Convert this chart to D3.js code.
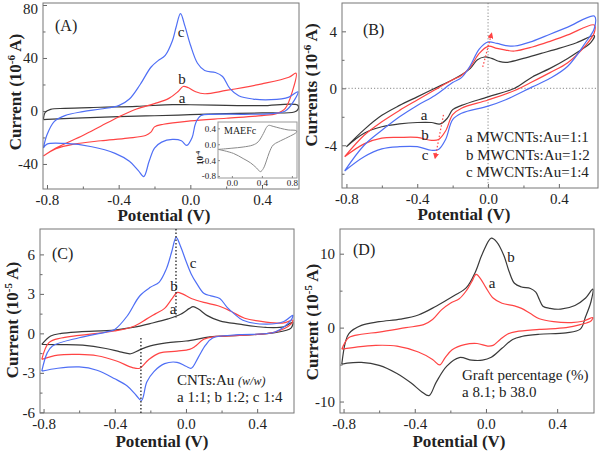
<!DOCTYPE html>
<html><head><meta charset="utf-8">
<script src="https://cdn.jsdelivr.net/npm/d3@7"></script>
<style>
body{margin:0;background:#fff}
svg{display:block}
text{font-family:"Liberation Serif","Times New Roman",serif;fill:#222}
</style>
</head><body>
<svg id="chart" width="600" height="453"></svg>
<script>
// ---------------- DATA (potential V, current) ----------------
const xTickVals = [-0.8, -0.4, 0.0, 0.4];
const xTickLabels = ["-0.8", "-0.4", "0.0", "0.4"];
const xMinorVals = [-0.6, -0.2, 0.2];
const yTicksA = [-40, 0, 40, 80];
const yTicksB = [-4, 0, 4];
const yTicksC = [-6, -3, 0, 3, 6];
const yTicksD = [-10, 0, 10];
const insetXTicks = [0.0, 0.4, 0.8];
const insetYTicks = [-0.8, -0.4, 0.0, 0.4];

// Panel A (10^-6 A)
const A_a = [[-0.82,-6.5],[-0.81,-1],[-0.78,1.2],[-0.7,2.0],[-0.5,2.8],[-0.3,3.5],[-0.1,4.8],[0.0,4.7],[0.2,4.2],[0.4,4.0],[0.6,4.3],
  [0.6,1],[0.58,-0.8],[0.4,-1.5],[0.2,-2.0],[0.0,-2.8],[-0.2,-3.6],[-0.4,-4.3],[-0.6,-5.2],[-0.8,-6.3],[-0.82,-6.5]];
const A_b = [[-0.82,-34],[-0.75,-28],[-0.6,-18.5],[-0.5,-11.5],[-0.4,-4.5],[-0.3,1.5],[-0.2,5.5],[-0.12,9.5],[-0.07,14.5],[-0.04,18.5],[-0.01,17.5],[0.03,14.5],[0.08,13],[0.2,15.5],[0.4,20.5],[0.55,25.5],[0.59,28.5],
  [0.57,15],[0.53,2],[0.48,-2],[0.4,-3.5],[0.2,-5.5],[0.0,-7.5],[-0.15,-10],[-0.2,-12],[-0.22,-16],[-0.25,-18.5],[-0.35,-20.5],[-0.5,-22.5],[-0.65,-25],[-0.75,-28.5],[-0.82,-34]];
const A_c = [[-0.82,-28],[-0.8,-18],[-0.76,-8],[-0.7,-3.5],[-0.6,-0.5],[-0.5,1.5],[-0.4,4],[-0.34,9],[-0.28,20],[-0.22,33],[-0.18,38],[-0.14,42],[-0.1,53],[-0.08,63],[-0.055,73.5],[-0.03,64],[0.0,50],[0.04,36],[0.08,30.5],[0.14,29],[0.18,26],[0.22,17],[0.27,11.5],[0.35,9],[0.45,8.5],[0.55,10.5],[0.6,14.5],
  [0.58,8],[0.53,0],[0.45,-2],[0.3,-2.5],[0.12,-2.5],[0.06,-3.5],[0.03,-9],[0.01,-20],[-0.02,-26],[-0.05,-22.5],[-0.1,-21.5],[-0.16,-23.5],[-0.2,-28],[-0.23,-38],[-0.26,-49.5],[-0.29,-45],[-0.34,-38],[-0.42,-32],[-0.55,-27],[-0.7,-24.5],[-0.8,-25],[-0.82,-28]];
// Inset (MAEFc)
const A_inset = [[-0.18,-0.13],[0.0,-0.1],[0.15,-0.07],[0.28,-0.02],[0.35,0.06],[0.42,0.27],[0.46,0.42],[0.49,0.475],[0.55,0.45],[0.65,0.4],[0.75,0.36],[0.86,0.34],
  [0.86,0.3],[0.75,0.18],[0.62,0.06],[0.55,-0.02],[0.5,-0.2],[0.46,-0.42],[0.42,-0.61],[0.38,-0.69],[0.33,-0.6],[0.25,-0.47],[0.15,-0.36],[0.02,-0.23],[-0.18,-0.13]];

// Panel B (10^-6 A)
const B_a = [[-0.8,-4.1],[-0.7,-2.9],[-0.6,-1.9],[-0.5,-1.2],[-0.4,-0.6],[-0.3,0.0],[-0.2,0.6],[-0.15,0.95],[-0.1,1.4],[-0.06,2.0],[-0.02,2.2],[0.02,2.1],[0.06,1.9],[0.1,1.82],[0.2,2.1],[0.3,2.45],[0.4,2.8],[0.5,3.2],[0.6,3.7],
  [0.58,3.2],[0.5,2.5],[0.45,2.1],[0.35,1.4],[0.25,0.8],[0.15,0.0],[0.0,-0.6],[-0.15,-1.2],[-0.2,-1.5],[-0.23,-2.1],[-0.27,-2.5],[-0.32,-2.4],[-0.4,-2.4],[-0.5,-2.5],[-0.6,-2.7],[-0.7,-3.15],[-0.8,-4.1]];
const B_b = [[-0.81,-4.8],[-0.7,-3.3],[-0.6,-2.35],[-0.5,-1.55],[-0.4,-0.82],[-0.3,-0.1],[-0.2,0.6],[-0.15,0.9],[-0.1,1.5],[-0.05,2.45],[0.0,2.95],[0.05,2.8],[0.1,2.68],[0.15,2.62],[0.25,2.9],[0.35,3.3],[0.45,3.75],[0.6,4.45],
  [0.6,3.9],[0.55,3.0],[0.45,1.8],[0.35,1.1],[0.25,0.46],[0.15,-0.15],[0.0,-0.82],[-0.15,-1.4],[-0.2,-1.85],[-0.24,-3.0],[-0.28,-3.6],[-0.32,-3.65],[-0.4,-3.45],[-0.5,-3.45],[-0.6,-3.5],[-0.7,-3.9],[-0.81,-4.8]];
const B_c = [[-0.81,-5.8],[-0.7,-4.0],[-0.6,-2.95],[-0.5,-2.0],[-0.4,-1.2],[-0.3,-0.5],[-0.2,0.4],[-0.15,0.75],[-0.1,1.6],[-0.05,2.75],[0.0,3.25],[0.05,3.15],[0.1,3.0],[0.15,2.97],[0.25,3.3],[0.35,3.8],[0.45,4.3],[0.6,5.07],
  [0.6,4.2],[0.55,3.2],[0.45,1.55],[0.35,0.7],[0.25,0.1],[0.1,-0.8],[0.0,-1.25],[-0.15,-1.75],[-0.2,-2.2],[-0.24,-3.6],[-0.28,-4.3],[-0.32,-4.35],[-0.4,-4.1],[-0.5,-4.1],[-0.6,-4.25],[-0.7,-4.8],[-0.81,-5.8]];
const B_arrows = [[[-0.03,1.5],[0.02,3.85]],[[-0.252,-1.87],[-0.299,-4.9]]];

// Panel C (10^-5 A)
const C_a = [[-0.81,-0.84],[-0.76,-0.2],[-0.7,0.0],[-0.6,0.12],[-0.4,0.25],[-0.3,0.45],[-0.2,0.75],[-0.1,1.1],[-0.03,1.45],[0.02,1.9],[0.04,2.03],[0.07,1.85],[0.12,1.35],[0.19,0.95],[0.3,0.7],[0.45,0.45],[0.55,0.5],[0.6,0.85],
  [0.59,0.4],[0.5,0.05],[0.3,-0.15],[0.15,-0.25],[0.0,-0.58],[-0.11,-0.72],[-0.2,-0.95],[-0.26,-1.25],[-0.31,-1.55],[-0.37,-1.4],[-0.45,-1.15],[-0.58,-0.9],[-0.7,-0.85],[-0.81,-0.84]];
const C_b = [[-0.81,-1.98],[-0.77,-0.7],[-0.7,-0.35],[-0.6,-0.15],[-0.4,0.18],[-0.3,0.5],[-0.22,1.1],[-0.17,1.5],[-0.12,1.9],[-0.08,2.6],[-0.05,3.1],[-0.02,3.0],[0.03,2.65],[0.1,2.35],[0.18,2.1],[0.25,1.7],[0.33,1.15],[0.45,0.86],[0.55,0.8],[0.6,1.0],
  [0.59,0.7],[0.5,0.1],[0.3,-0.15],[0.16,-0.25],[0.1,-0.45],[0.05,-1.0],[0.02,-1.22],[-0.05,-1.35],[-0.15,-1.5],[-0.21,-2.0],[-0.26,-2.65],[-0.3,-2.6],[-0.39,-2.1],[-0.5,-1.7],[-0.6,-1.6],[-0.72,-1.65],[-0.81,-1.98]];
const C_c = [[-0.81,-2.87],[-0.78,-1.5],[-0.75,-0.96],[-0.6,-0.33],[-0.45,0.1],[-0.4,0.3],[-0.33,1.32],[-0.26,2.84],[-0.2,3.5],[-0.15,3.9],[-0.11,4.9],[-0.08,6.2],[-0.055,7.3],[-0.03,6.6],[0.0,5.5],[0.03,4.5],[0.06,3.8],[0.1,3.05],[0.14,2.85],[0.19,2.65],[0.23,2.0],[0.27,1.5],[0.32,1.0],[0.45,0.7],[0.55,0.9],[0.6,1.37],
  [0.59,1.0],[0.5,0.1],[0.3,-0.1],[0.15,-0.35],[0.11,-0.9],[0.07,-1.8],[0.03,-2.65],[0.0,-2.5],[-0.05,-2.2],[-0.12,-2.3],[-0.18,-2.9],[-0.22,-3.7],[-0.25,-5.1],[-0.28,-4.7],[-0.33,-4.0],[-0.4,-3.45],[-0.5,-2.8],[-0.6,-2.55],[-0.72,-2.65],[-0.81,-2.87]];
const C_guides = [[[-0.056,7.93],[-0.056,1.2]],[[-0.253,-0.35],[-0.253,-6.05]]];

// Panel D (10^-5 A)
const D_b = [[-0.81,-4.95],[-0.79,-2.0],[-0.77,-0.8],[-0.7,0.3],[-0.6,0.8],[-0.48,1.15],[-0.38,1.7],[-0.28,2.9],[-0.18,4.3],[-0.11,5.4],[-0.06,7.5],[-0.02,10],[0.03,12.1],[0.06,11.6],[0.1,9.8],[0.13,7.6],[0.16,6.0],[0.2,5.5],[0.25,5.3],[0.28,4.8],[0.3,3.8],[0.32,2.9],[0.36,2.6],[0.42,2.5],[0.5,3.0],[0.56,4.0],[0.6,5.2],
  [0.59,3.5],[0.56,1.5],[0.53,-0.2],[0.45,-0.7],[0.3,-0.9],[0.2,-1.2],[0.15,-1.6],[0.09,-2.8],[0.03,-4.0],[-0.02,-4.4],[-0.08,-4.4],[-0.15,-4.05],[-0.22,-5.2],[-0.28,-7.4],[-0.32,-9.2],[-0.36,-8.7],[-0.42,-7.5],[-0.5,-6.2],[-0.6,-5.1],[-0.7,-4.7],[-0.78,-4.8],[-0.81,-4.95]];
const D_a = [[-0.81,-2.93],[-0.77,-1.35],[-0.7,-0.9],[-0.6,-0.6],[-0.45,0.0],[-0.35,0.4],[-0.3,1.1],[-0.25,2.4],[-0.2,3.3],[-0.15,3.9],[-0.11,5.0],[-0.08,6.2],[-0.055,7.2],[-0.03,6.6],[0.0,5.4],[0.04,4.0],[0.09,3.3],[0.16,2.95],[0.2,2.6],[0.25,1.9],[0.3,1.2],[0.38,0.8],[0.48,0.68],[0.55,0.9],[0.6,1.35],
  [0.59,0.9],[0.53,0.4],[0.45,0.0],[0.3,-0.25],[0.17,-0.55],[0.12,-0.9],[0.08,-1.6],[0.04,-2.4],[0.01,-2.5],[-0.05,-2.15],[-0.12,-2.3],[-0.19,-3.0],[-0.23,-4.1],[-0.26,-5.05],[-0.3,-4.3],[-0.38,-3.3],[-0.5,-2.5],[-0.62,-2.4],[-0.72,-2.6],[-0.81,-2.93]];

// ---------------- DRAWING ----------------
const COL = {k:"#3a3a3a", r:"#ff4444", b:"#4f6ff5", g:"#8a8a8a"};
const svg = d3.select("#chart");
const defs = svg.append("defs");
defs.append("marker").attr("id","arr").attr("viewBox","0 0 10 10").attr("refX",8).attr("refY",5)
  .attr("markerWidth",5).attr("markerHeight",5).attr("orient","auto")
  .append("path").attr("d","M0,0L10,5L0,10z").attr("fill",COL.r);

const panels = [
  {id:"A", box:[43,3,299,189], xd:[-0.8223,0.6065], yd:[-58.9,81.5], yt:yTicksA, ym:[-20,20,60],
   ytitle:"Current (10", sup:"-6", ty:92, tx:15, xtx:164, xty:221,
   curves:[[A_a,COL.k],[A_b,COL.r],[A_c,COL.b]]},
  {id:"B", box:[342,3,598,188], xd:[-0.825,0.621], yd:[-7.0,5.99], yt:yTicksB, ym:[-6,-2,2],
   ytitle:"Currents (10", sup:"-6", ty:85, tx:311, xtx:464, xty:220,
   curves:[[B_a,COL.k],[B_b,COL.r],[B_c,COL.b]]},
  {id:"C", box:[40,229,294,413], xd:[-0.820,0.607], yd:[-6.05,7.93], yt:yTicksC, ym:[-4.5,-1.5,1.5,4.5],
   ytitle:"Current (10", sup:"-5", ty:320, tx:12, xtx:162, xty:447,
   curves:[[C_a,COL.k],[C_b,COL.r],[C_c,COL.b]]},
  {id:"D", box:[340,229,594,413], xd:[-0.820,0.607], yd:[-11.55,13.34], yt:yTicksD, ym:[-5,5],
   ytitle:"Current (10", sup:"-5", ty:322, tx:312, xtx:459, xty:447,
   curves:[[D_b,COL.k],[D_a,COL.r]]}
];

const lineGen = (x,y) => d3.line().x(d=>x(d[0])).y(d=>y(d[1])).curve(d3.curveCatmullRom.alpha(0.5));
const S = {};

panels.forEach(p => {
  const [l,t,r,b] = p.box;
  const x = d3.scaleLinear().domain(p.xd).range([l,r]);
  const y = d3.scaleLinear().domain(p.yd).range([b,t]);
  S[p.id] = {x,y};
  const g = svg.append("g");
  defs.append("clipPath").attr("id","clip"+p.id).append("rect").attr("x",l).attr("y",t).attr("width",r-l).attr("height",b-t);

  const xa = g.append("g").attr("transform",`translate(0,${b})`)
    .call(d3.axisBottom(x).tickValues(xTickVals).tickFormat((d,i)=>xTickLabels[i]).tickSizeInner(-4).tickSizeOuter(0).tickPadding(5));
  const xm = g.append("g").attr("transform",`translate(0,${b})`)
    .call(d3.axisBottom(x).tickValues(xMinorVals).tickFormat("").tickSizeInner(-2.5).tickSizeOuter(0));
  const ya = g.append("g").attr("transform",`translate(${l},0)`)
    .call(d3.axisLeft(y).tickValues(p.yt).tickFormat(d=>String(d).replace("\u2212","-")).tickSizeInner(-4).tickSizeOuter(0).tickPadding(5));
  const ym = g.append("g").attr("transform",`translate(${l},0)`)
    .call(d3.axisLeft(y).tickValues(p.ym).tickFormat("").tickSizeInner(-2.5).tickSizeOuter(0));
  [xa,xm,ya,ym].forEach(a=>{a.select(".domain").remove(); a.selectAll("line").attr("stroke","#666");
    a.selectAll("text").attr("font-size",15).attr("fill","#222").attr("font-family",'"Liberation Serif",serif');});
  // keep the top tick label inside the picture
  ya.selectAll(".tick text").filter(d => y(d) - t < 6).attr("dy","0.55em");

  const cg = g.append("g").attr("clip-path",`url(#clip${p.id})`);
  p.curves.forEach(([data,col]) => {
    cg.append("path").attr("d",lineGen(x,y)(data)).attr("fill","none").attr("stroke",col).attr("stroke-width",1.2);
  });

  g.append("rect").attr("x",l).attr("y",t).attr("width",r-l).attr("height",b-t)
    .attr("fill","none").attr("stroke","#777").attr("stroke-width",1);

  const yt = g.append("text").attr("transform",`translate(${p.tx},${p.ty}) rotate(-90)`)
    .attr("text-anchor","middle").attr("font-size",17).attr("font-weight","bold").attr("dy","0.35em");
  yt.append("tspan").text(p.ytitle);
  yt.append("tspan").attr("dy",-6).attr("font-size",11).text(p.sup);
  yt.append("tspan").attr("dy",6).text(" A)");
  g.append("text").attr("x",p.xtx).attr("y",p.xty).attr("text-anchor","middle")
    .attr("font-size",17).attr("font-weight","bold").text("Potential (V)");
  p.g = g; p.cg = cg;
});

function txt(x,y,s,opt={}){
  return svg.append("text").attr("x",x).attr("y",y).attr("font-size",opt.fs||15)
    .attr("text-anchor",opt.a||"start").attr("font-style",opt.it?"italic":null).text(s);
}

// Panel A labels
txt(55,31,"(A)",{fs:16});
txt(181,37,"c",{a:"middle"});
txt(182,84,"b",{a:"middle"});
txt(182,103,"a",{a:"middle"});

// Inset in A
{
  const l=218,t=122,r=297,b=178;
  const x = d3.scaleLinear().domain([-0.185,0.868]).range([l,r]);
  const y = d3.scaleLinear().domain([-0.85,0.56]).range([b,t]);
  const g = svg.append("g");
  g.append("rect").attr("x",l).attr("y",t).attr("width",r-l).attr("height",b-t).attr("fill","#fff").attr("stroke","#999");
  const xa = g.append("g").attr("transform",`translate(0,${b})`)
    .call(d3.axisBottom(x).tickValues(insetXTicks).tickFormat(d3.format(".1f")).tickSizeInner(-2).tickSizeOuter(0).tickPadding(2));
  const ya = g.append("g").attr("transform",`translate(${l},0)`)
    .call(d3.axisLeft(y).tickValues(insetYTicks).tickFormat(d=>d3.format(".1f")(d).replace("\u2212","-")).tickSizeInner(-2).tickSizeOuter(0).tickPadding(2));
  [xa,ya].forEach(a=>{a.select(".domain").remove(); a.selectAll("line").attr("stroke","#888");
    a.selectAll("text").attr("font-size",9).attr("fill","#333").attr("font-family",'"Liberation Serif",serif');});
  g.append("path").attr("d",lineGen(x,y)(A_inset)).attr("fill","none").attr("stroke",COL.g).attr("stroke-width",1);
  g.append("text").attr("x",224).attr("y",134).attr("font-size",10).text("MAEFc");
  const it = g.append("text").attr("transform","translate(203,158) rotate(-90)").attr("text-anchor","middle")
    .attr("font-size",9).attr("font-weight","bold");
  it.append("tspan").text("10");
  it.append("tspan").attr("dy",-3).attr("font-size",6).text("-4");
}

// Panel B extras
{
  const {x,y} = S.B;
  const pb = panels[1];
  pb.cg.insert("line",":first-child").attr("x1",x(0)).attr("x2",x(0)).attr("y1",pb.box[1]).attr("y2",pb.box[3])
    .attr("stroke","#888").attr("stroke-dasharray","1.2,2");
  pb.cg.insert("line",":first-child").attr("x1",pb.box[0]).attr("x2",pb.box[2]).attr("y1",y(0)).attr("y2",y(0))
    .attr("stroke","#888").attr("stroke-dasharray","1.2,2");
  B_arrows.forEach(a=>{
    svg.append("line").attr("x1",x(a[0][0])).attr("y1",y(a[0][1])).attr("x2",x(a[1][0])).attr("y2",y(a[1][1]))
      .attr("stroke",COL.r).attr("stroke-width",1.2).attr("stroke-dasharray","1.5,2").attr("marker-end","url(#arr)");
  });
  txt(363,35,"(B)",{fs:16});
  txt(424,120,"a",{a:"middle"});
  txt(425,140,"b",{a:"middle"});
  txt(425,160,"c",{a:"middle"});
  txt(466,142,"a MWCNTs:Au=1:1");
  txt(466,160,"b MWCNTs:Au=1:2");
  txt(466,177,"c MWCNTs:Au=1:4");
}

// Panel C extras
{
  const {x,y} = S.C;
  C_guides.forEach(gd=>{
    svg.append("line").attr("x1",x(gd[0][0])).attr("y1",y(gd[0][1])).attr("x2",x(gd[1][0])).attr("y2",y(gd[1][1]))
      .attr("stroke","#222").attr("stroke-width",1.3).attr("stroke-dasharray","1.5,2");
  });
  txt(52,259,"(C)",{fs:16});
  txt(193,268,"c",{a:"middle"});
  txt(174,291,"b",{a:"middle"});
  txt(173,314,"a",{a:"middle"});
  const t1 = txt(177,385,"CNTs:Au ");
  t1.append("tspan").attr("font-size",12).attr("font-style","italic").text("(w/w)");
  txt(177,402,"a 1:1; b 1:2; c 1:4");
}

// Panel D extras
txt(353,255,"(D)",{fs:16});
txt(511,262,"b",{a:"middle"});
txt(492,288,"a",{a:"middle"});
txt(462,380,"Graft percentage (%)");
txt(462,397,"a 8.1; b 38.0");
</script>
</body></html>
